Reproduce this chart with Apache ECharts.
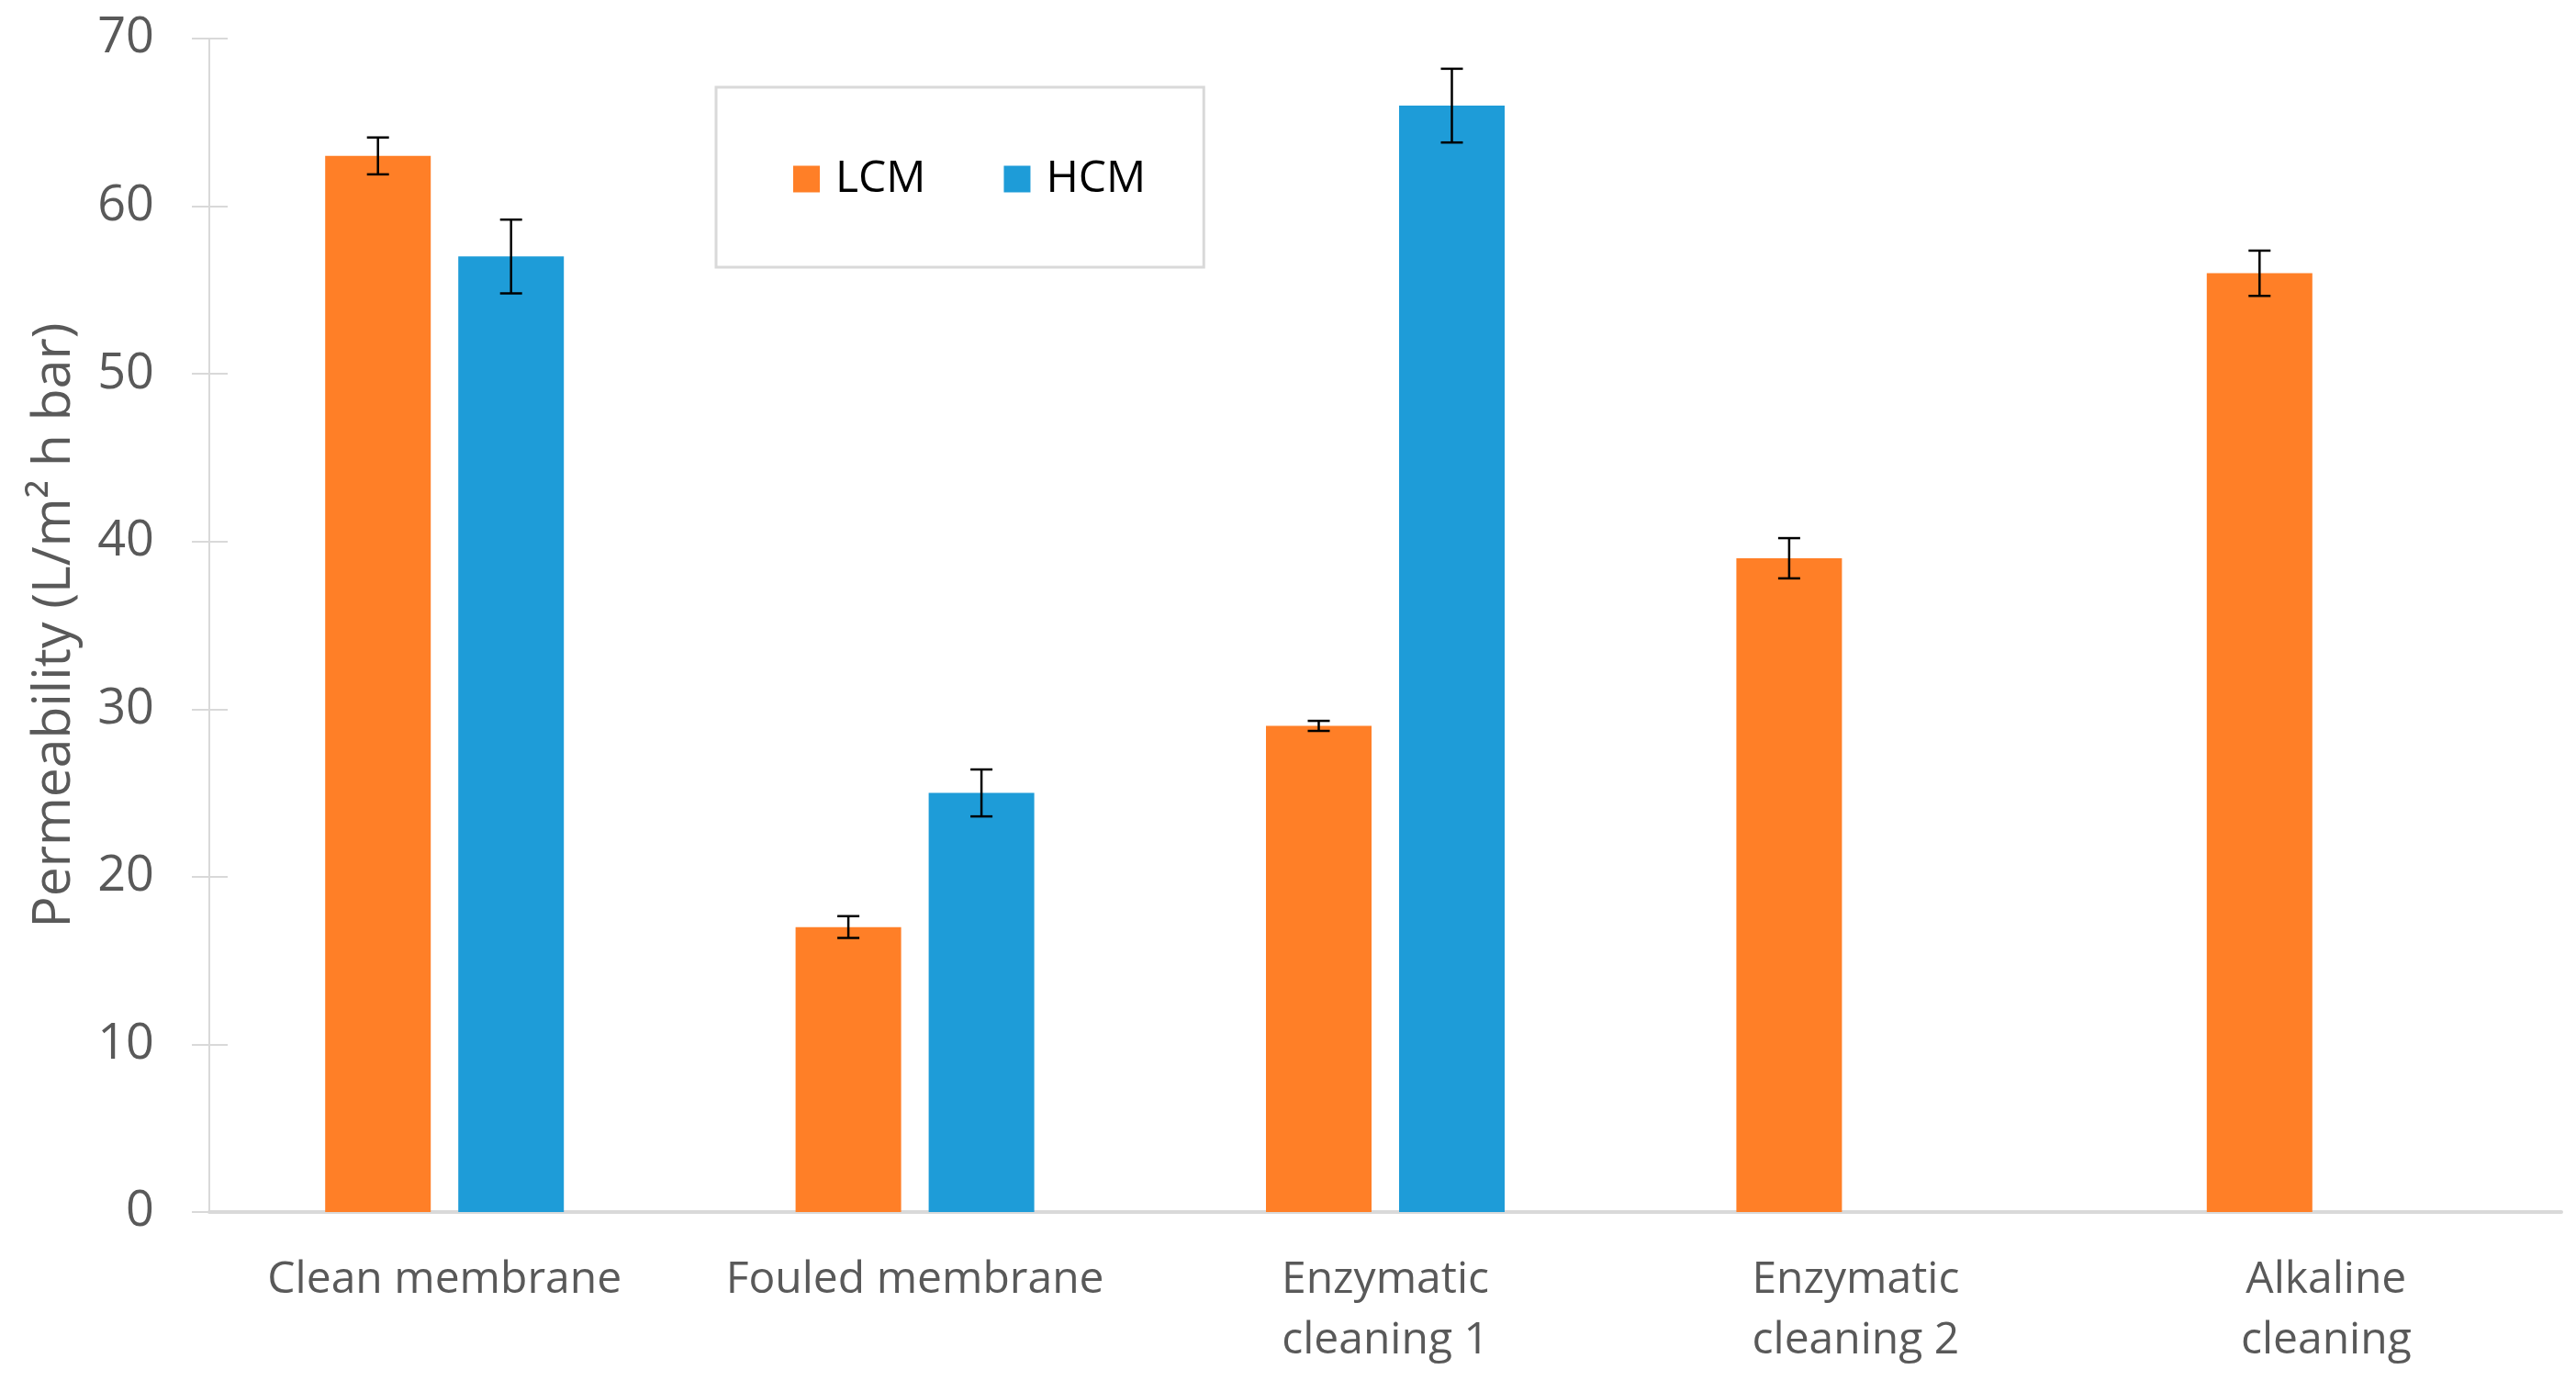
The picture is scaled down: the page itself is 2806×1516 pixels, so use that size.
<!DOCTYPE html>
<html>
<head>
<meta charset="utf-8">
<script src="https://cdn.jsdelivr.net/npm/echarts@6/dist/echarts.min.js"></script>
<style>
html,body{margin:0;padding:0;background:#fff;}
#chart{width:2806px;height:1516px;}
</style>
</head>
<body>
<div id="chart"></div>
<script>
// ---- data ----
const categories = ['Clean membrane', 'Fouled membrane', 'Enzymatic\ncleaning 1', 'Enzymatic\ncleaning 2', 'Alkaline\ncleaning'];
const seriesNames = ['LCM', 'HCM'];
const lcmValues = [63, 17, 29, 39, 56];
const lcmErrors = [1.1, 0.65, 0.3, 1.2, 1.35];
const hcmValues = [57, 25, 66, null, null];
const hcmErrors = [2.2, 1.4, 2.2, null, null];
const yTicks = { min: 0, max: 70, interval: 10 };
const yTitle = 'Permeability (L/m\u00B2 h bar)';

// ---- style ----
const COLORS = ['#FF7F27', '#1E9CD8'];
const BAR_W = 115;
const BAR_GAP_PX = 30;
const FONT = "'Open Sans', sans-serif";
const GREY = '#595959';
const AXIS = '#d9d9d9';

const chart = echarts.init(document.getElementById('chart'));

function errData(vals, errs) {
  const out = [];
  vals.forEach((v, i) => { if (v != null && errs[i] != null) out.push([i, v, errs[i]]); });
  return out;
}

function makeErrRender(side) {
  return function (params, api) {
    const xi = api.value(0), v = api.value(1), e = api.value(2);
    const c = api.coord([xi, v]);
    const x = c[0] + side * (BAR_W + BAR_GAP_PX) / 2;
    const yT = api.coord([xi, v + e])[1];
    const yB = api.coord([xi, v - e])[1];
    const cap = 12;
    const st = { stroke: '#000', lineWidth: 2.5 };
    return {
      type: 'group',
      children: [
        { type: 'line', shape: { x1: x, y1: yT, x2: x, y2: yB }, style: st },
        { type: 'line', shape: { x1: x - cap, y1: yT, x2: x + cap, y2: yT }, style: st },
        { type: 'line', shape: { x1: x - cap, y1: yB, x2: x + cap, y2: yB }, style: st }
      ]
    };
  };
}

const option = {
  backgroundColor: '#fff',
  animation: false,
  grid: { left: 228, right: 16, top: 42, bottom: 196 },
  legend: {
    data: seriesNames,
    left: 780, top: 95,
    orient: 'horizontal',
    itemWidth: 29, itemHeight: 29,
    itemGap: 85,
    padding: [76, 63, 72, 84],
    borderColor: AXIS, borderWidth: 3,
    icon: 'rect',
    textStyle: { fontFamily: FONT, fontSize: 48, color: '#000', padding: [0, 0, 0, 12] }
  },
  xAxis: {
    type: 'category',
    data: categories,
    axisLine: { show: true, lineStyle: { color: AXIS, width: 4 } },
    axisTick: { show: false },
    axisLabel: { fontFamily: FONT, fontSize: 48, color: GREY, margin: 41, lineHeight: 66, interval: 0 },
    splitLine: { show: false }
  },
  yAxis: [
    {
      type: 'value', min: yTicks.min, max: yTicks.max, interval: yTicks.interval,
      name: yTitle, nameLocation: 'middle', nameGap: 140,
      nameTextStyle: { fontFamily: FONT, fontSize: 57, color: GREY },
      axisLine: { show: true, lineStyle: { color: AXIS, width: 2 } },
      axisTick: { show: true, length: 19, lineStyle: { color: AXIS, width: 2 } },
      axisLabel: { fontFamily: FONT, fontSize: 54, color: GREY, margin: 60 },
      splitLine: { show: false }
    },
    {
      type: 'value', position: 'left', min: yTicks.min, max: yTicks.max, interval: yTicks.interval,
      axisLine: { show: false },
      axisTick: { show: true, inside: true, length: 20, lineStyle: { color: AXIS, width: 2 } },
      axisLabel: { show: false },
      splitLine: { show: false }
    }
  ],
  series: [
    {
      name: seriesNames[0], type: 'bar', data: lcmValues,
      barWidth: BAR_W, barGap: (BAR_GAP_PX / BAR_W * 100) + '%',
      itemStyle: { color: COLORS[0] }, z: 2
    },
    {
      name: seriesNames[1], type: 'bar', data: hcmValues,
      barWidth: BAR_W, barGap: (BAR_GAP_PX / BAR_W * 100) + '%',
      itemStyle: { color: COLORS[1] }, z: 2
    },
    {
      type: 'custom', name: 'LCM err', data: errData(lcmValues, lcmErrors),
      renderItem: makeErrRender(-1), encode: { x: 0, y: 1 }, z: 5, silent: true
    },
    {
      type: 'custom', name: 'HCM err', data: errData(hcmValues, hcmErrors),
      renderItem: makeErrRender(1), encode: { x: 0, y: 1 }, z: 5, silent: true
    }
  ]
};
chart.setOption(option);
</script>
</body>
</html>
